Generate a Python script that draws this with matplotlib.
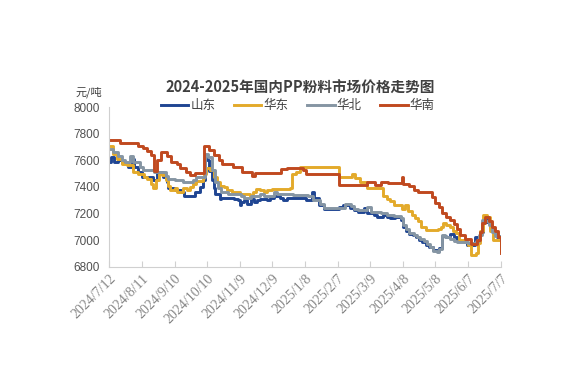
import matplotlib
matplotlib.use("Agg")
import matplotlib.pyplot as plt
import pandas as pd

START = pd.Timestamp("2024-07-12")

# days since 2024/7/12 and price (元/吨)
sd_days = [0, 1, 4, 8, 12, 17, 21, 23, 26, 30, 40, 44, 49, 53, 54, 60, 66, 69, 79, 83,
           86, 88, 90, 92, 94, 96, 97, 102, 103, 112, 115, 118, 120, 121, 124, 127, 130, 133, 136, 139,
           145, 148, 151, 157, 160, 163, 175, 181, 186, 188, 193, 197, 211, 215, 221, 225, 229, 234, 237, 243,
           246, 252, 255, 258, 263, 268, 270, 273, 276, 279, 282, 285, 288, 291, 294, 298, 301, 303, 306, 310,
           313, 317, 320, 329, 334, 336, 341, 344, 347, 350, 353, 357, 360]
sd_vals = [7590, 7625, 7590, 7600, 7580, 7550, 7610, 7550, 7510, 7475, 7450, 7510, 7475, 7435, 7390, 7375, 7360, 7335, 7360, 7400,
           7450, 7620, 7600, 7520, 7450, 7390, 7350, 7310, 7320, 7320, 7310, 7300, 7260, 7285, 7300, 7270, 7310, 7285, 7300, 7310,
           7300, 7320, 7330, 7320, 7300, 7320, 7320, 7300, 7365, 7320, 7260, 7235, 7250, 7260, 7240, 7225, 7210, 7240, 7200, 7185,
           7175, 7185, 7175, 7165, 7175, 7150, 7100, 7070, 7045, 7035, 7020, 7000, 6985, 6960, 6950, 6925, 6915, 6940, 7030, 7020,
           7045, 7020, 6990, 6965, 6960, 7020, 7060, 7135, 7150, 7100, 7060, 7020, 7020]

hd_days = [0, 3, 7, 12, 16, 22, 26, 32, 35, 38, 40, 43, 46, 48, 52, 54, 56, 60, 62, 68,
           71, 74, 77, 80, 86, 87, 89, 93, 96, 99, 102, 105, 108, 113, 120, 129, 132, 135, 139, 142,
           145, 150, 166, 168, 172, 175, 209, 211, 223, 226, 231, 237, 252, 255, 258, 262, 265, 269, 272, 275,
           278, 281, 284, 287, 291, 298, 302, 305, 307, 310, 313, 316, 319, 322, 327, 330, 333, 337, 339, 341,
           344, 347, 350, 353, 357, 360]
hd_vals = [7710, 7650, 7610, 7575, 7565, 7510, 7500, 7475, 7460, 7425, 7395, 7450, 7500, 7490, 7450, 7410, 7375, 7390, 7360, 7390,
           7375, 7400, 7425, 7445, 7470, 7500, 7540, 7530, 7475, 7440, 7410, 7400, 7375, 7360, 7350, 7335, 7360, 7385, 7375, 7360,
           7375, 7385, 7390, 7500, 7515, 7550, 7550, 7475, 7500, 7470, 7440, 7390, 7330, 7310, 7290, 7265, 7260, 7235, 7260, 7220,
           7185, 7165, 7145, 7100, 7075, 7075, 7085, 7100, 7125, 7110, 7095, 7070, 7050, 7000, 6985, 6960, 6885, 6900, 6980, 7070,
           7185, 7170, 7070, 7000, 7000, 6920]

hb_days = [0, 3, 8, 12, 14, 19, 22, 28, 31, 41, 52, 54, 60, 68, 77, 80, 87, 88, 91, 94,
           97, 100, 103, 109, 121, 124, 130, 139, 142, 151, 154, 169, 183, 187, 194, 197, 214, 217, 222, 225,
           229, 237, 241, 250, 255, 262, 268, 270, 273, 276, 280, 283, 286, 289, 292, 295, 298, 301, 303, 306,
           309, 313, 317, 320, 330, 334, 337, 340, 343, 346, 349, 352, 355, 360]
hb_vals = [7685, 7660, 7630, 7600, 7585, 7630, 7590, 7550, 7525, 7510, 7485, 7460, 7450, 7435, 7450, 7475, 7475, 7650, 7625, 7525,
           7440, 7390, 7360, 7350, 7335, 7320, 7335, 7350, 7335, 7360, 7350, 7340, 7335, 7300, 7270, 7240, 7240, 7270, 7255, 7235,
           7225, 7245, 7210, 7200, 7185, 7180, 7165, 7110, 7080, 7050, 7040, 7020, 7005, 6990, 6970, 6945, 6920, 6910, 6930, 7035,
           7020, 7010, 6990, 6985, 6975, 6980, 6990, 7040, 7150, 7140, 7110, 7060, 7030, 7010]

hn_days = [0, 10, 26, 31, 35, 38, 41, 44, 47, 53, 57, 62, 65, 70, 74, 79, 87, 92, 96, 101,
           104, 114, 122, 131, 134, 158, 163, 178, 181, 211, 237, 244, 250, 256, 269, 270, 276, 280, 284, 297,
           300, 303, 306, 310, 313, 317, 320, 323, 327, 333, 338, 341, 343, 346, 349, 352, 355, 358, 360]
hn_vals = [7750, 7730, 7710, 7690, 7670, 7640, 7520, 7600, 7660, 7630, 7590, 7570, 7540, 7510, 7490, 7505, 7710, 7680, 7640, 7600,
           7575, 7550, 7510, 7480, 7505, 7535, 7545, 7525, 7500, 7415, 7440, 7415, 7435, 7430, 7475, 7425, 7405, 7375, 7360, 7325,
           7275, 7250, 7200, 7175, 7150, 7120, 7085, 7035, 7010, 6970, 7000, 7060, 7125, 7170, 7140, 7100, 7070, 7020, 6900]

series = [
    ("山东", sd_days, sd_vals, "#1f4592"),
    ("华东", hd_days, hd_vals, "#e3aa2a"),
    ("华北", hb_days, hb_vals, "#8595a3"),
    ("华南", hn_days, hn_vals, "#c0491f"),
]

plt.rcParams['font.family'] = ['Noto Sans CJK SC', 'DejaVu Sans']

fig = plt.figure(figsize=(5.67, 3.89), dpi=100)
ax = fig.add_axes([0.193, 0.3144, 0.690, 0.4105])

for name, d, v, c in series:
    x = START + pd.to_timedelta(d, unit="D")
    ax.plot(x, v, drawstyle="steps-post", color=c, lw=2.1, label=name)

ticks = pd.date_range(START, periods=13, freq="30D")
ax.set_xticks(ticks)
ax.set_xticklabels([f"{t.year}/{t.month}/{t.day}" for t in ticks], rotation=45,
                   ha="right", rotation_mode="anchor", fontsize=10,
                   family="Liberation Serif", color="#858585")
ax.set_xlim(START, START + pd.Timedelta(days=360))
ax.set_ylim(6800, 8000)
ax.set_yticks(range(6800, 8001, 200))
ax.set_yticklabels([str(v) for v in range(6800, 8001, 200)],
                   family="Liberation Sans", fontsize=8.5, color="#505050")

for s in ["top", "right"]:
    ax.spines[s].set_visible(False)
for s in ["left", "bottom"]:
    ax.spines[s].set_color("#d0d0d0")
ax.tick_params(axis="x", direction="in", length=4, color="#d0d0d0", pad=4)
ax.tick_params(axis="y", length=0, pad=7)

fig.text(0.529, 0.774, "2024-2025年国内PP粉料市场价格走势图", ha="center", va="center",
         fontsize=10.5, fontweight="bold", color="#404040")
fig.text(0.133, 0.762, "元/吨", ha="left", va="center", fontsize=8, color="#404040")

fig.legend(loc="center", bbox_to_anchor=(0.525, 0.728), ncol=4, frameon=False,
           fontsize=9, handlelength=2.2, handletextpad=0.15, columnspacing=1.5,
           labelcolor="#404040")

fig.savefig("out.png", dpi=100)
